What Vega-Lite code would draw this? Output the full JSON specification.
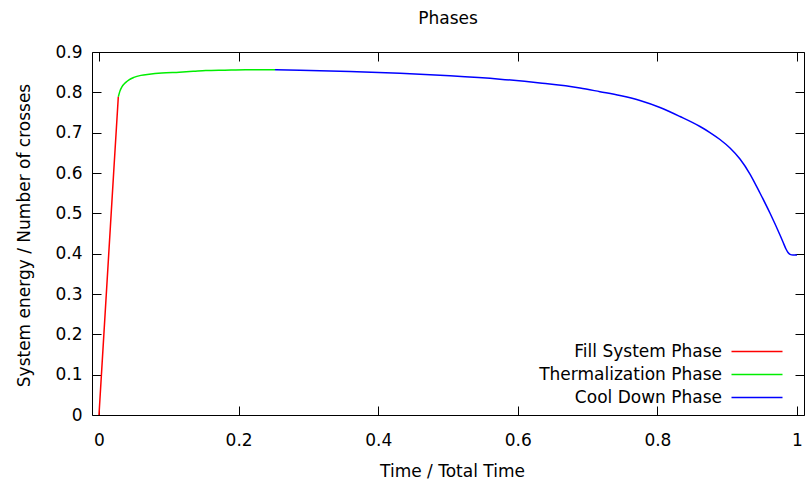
{
  "$schema": "https://vega.github.io/schema/vega-lite/v6.json",
  "width": 712,
  "height": 363,
  "autosize": {"type": "none"},
  "padding": {"left": 92, "top": 52, "right": 1, "bottom": 65},
  "title": {"text": "Phases", "frame": "group", "anchor": "middle", "baseline": "alphabetic", "offset": 2, "fontSize": 17, "font": "DejaVu Sans", "fontWeight": "normal", "color": "#000"},
  "config": {
    "view": {"stroke": "#000", "strokeWidth": 1},
    "font": "DejaVu Sans",
    "axis": {"labelFont": "DejaVu Sans", "titleFont": "DejaVu Sans", "labelFontSize": 17, "titleFontSize": 17, "labelColor": "#000", "titleColor": "#000", "titleFontWeight": "normal", "tickColor": "#000", "tickWidth": 1, "domain": false, "grid": false, "labelFlush": false, "labelOverlap": false, "labelBound": false},
    "legend": {"labelFont": "DejaVu Sans"}
  },
  "data": {"values": [
    {"phase": "Fill System Phase", "t": 0.0, "e": 0.0},
    {"phase": "Fill System Phase", "t": 0.007, "e": 0.2},
    {"phase": "Fill System Phase", "t": 0.014, "e": 0.4},
    {"phase": "Fill System Phase", "t": 0.021, "e": 0.6},
    {"phase": "Fill System Phase", "t": 0.0277, "e": 0.789},
    {"phase": "Thermalization Phase", "t": 0.0277, "e": 0.789},
    {"phase": "Thermalization Phase", "t": 0.030, "e": 0.803},
    {"phase": "Thermalization Phase", "t": 0.033, "e": 0.814},
    {"phase": "Thermalization Phase", "t": 0.038, "e": 0.824},
    {"phase": "Thermalization Phase", "t": 0.043, "e": 0.831},
    {"phase": "Thermalization Phase", "t": 0.050, "e": 0.837},
    {"phase": "Thermalization Phase", "t": 0.060, "e": 0.842},
    {"phase": "Thermalization Phase", "t": 0.072, "e": 0.845},
    {"phase": "Thermalization Phase", "t": 0.090, "e": 0.848},
    {"phase": "Thermalization Phase", "t": 0.115, "e": 0.850},
    {"phase": "Thermalization Phase", "t": 0.135, "e": 0.852},
    {"phase": "Thermalization Phase", "t": 0.153, "e": 0.854},
    {"phase": "Thermalization Phase", "t": 0.180, "e": 0.855},
    {"phase": "Thermalization Phase", "t": 0.210, "e": 0.856},
    {"phase": "Thermalization Phase", "t": 0.2522, "e": 0.8561},
    {"phase": "Cool Down Phase", "t": 0.2522, "e": 0.8561},
    {"phase": "Cool Down Phase", "t": 0.2880, "e": 0.8549},
    {"phase": "Cool Down Phase", "t": 0.3596, "e": 0.8517},
    {"phase": "Cool Down Phase", "t": 0.4312, "e": 0.8472},
    {"phase": "Cool Down Phase", "t": 0.5029, "e": 0.8410},
    {"phase": "Cool Down Phase", "t": 0.5745, "e": 0.8326},
    {"phase": "Cool Down Phase", "t": 0.6318, "e": 0.8231},
    {"phase": "Cool Down Phase", "t": 0.6891, "e": 0.8107},
    {"phase": "Cool Down Phase", "t": 0.7177, "e": 0.8016},
    {"phase": "Cool Down Phase", "t": 0.7464, "e": 0.7922},
    {"phase": "Cool Down Phase", "t": 0.7750, "e": 0.7798},
    {"phase": "Cool Down Phase", "t": 0.8037, "e": 0.7624},
    {"phase": "Cool Down Phase", "t": 0.8323, "e": 0.7401},
    {"phase": "Cool Down Phase", "t": 0.8610, "e": 0.7153},
    {"phase": "Cool Down Phase", "t": 0.8753, "e": 0.7004},
    {"phase": "Cool Down Phase", "t": 0.8896, "e": 0.6831},
    {"phase": "Cool Down Phase", "t": 0.9040, "e": 0.6620},
    {"phase": "Cool Down Phase", "t": 0.9183, "e": 0.6347},
    {"phase": "Cool Down Phase", "t": 0.9326, "e": 0.5975},
    {"phase": "Cool Down Phase", "t": 0.9469, "e": 0.5504},
    {"phase": "Cool Down Phase", "t": 0.9612, "e": 0.5008},
    {"phase": "Cool Down Phase", "t": 0.9756, "e": 0.4463},
    {"phase": "Cool Down Phase", "t": 0.9799, "e": 0.4289},
    {"phase": "Cool Down Phase", "t": 0.9842, "e": 0.4116},
    {"phase": "Cool Down Phase", "t": 0.9871, "e": 0.4029},
    {"phase": "Cool Down Phase", "t": 0.9900, "e": 0.3984},
    {"phase": "Cool Down Phase", "t": 0.9943, "e": 0.3967},
    {"phase": "Cool Down Phase", "t": 1.0, "e": 0.3967}
  ]},
  "layer": [
    {
      "mark": {"type": "line", "strokeWidth": 1.5, "interpolate": "monotone"},
      "encoding": {
        "x": {"field": "t", "type": "quantitative", "scale": {"domain": [-0.01, 1.01], "nice": false, "zero": false},
          "axis": {"orient": "bottom", "values": [0, 0.2, 0.4, 0.6, 0.8, 1], "format": "~g", "tickSize": -9, "labelPadding": 26, "title": "Time / Total Time", "titleX": 360, "titleY": 61, "titleBaseline": "alphabetic", "titleAnchor": null}},
        "y": {"field": "e", "type": "quantitative", "scale": {"domain": [0, 0.9], "nice": false, "zero": false},
          "axis": {"orient": "left", "values": [0, 0.1, 0.2, 0.3, 0.4, 0.5, 0.6, 0.7, 0.8, 0.9], "format": "~g", "tickSize": -9, "labelPadding": 19, "title": "System energy / Number of crosses", "titleAngle": 270, "titleBaseline": "alphabetic", "titleAlign": "center", "titleX": -63, "titleY": 183}},
        "color": {"field": "phase", "type": "nominal",
          "scale": {"domain": ["Fill System Phase", "Thermalization Phase", "Cool Down Phase"], "range": ["#ff0000", "#00ee00", "#0000ff"]},
          "legend": {"orient": "none", "legendX": 656.5, "legendY": 291, "title": null, "symbolType": "M-5.1,0H5.1", "symbolSize": 100, "symbolStrokeWidth": 1.5, "labelAlign": "right", "labelOffset": -43.5, "labelFontSize": 17, "labelColor": "#000", "rowPadding": 5, "padding": 0, "labelLimit": 400}}
      }
    },
    {
      "mark": {"type": "line", "opacity": 0},
      "encoding": {
        "x": {"field": "t", "type": "quantitative", "scale": {"domain": [-0.01, 1.01], "nice": false, "zero": false},
          "axis": {"orient": "top", "values": [0, 0.2, 0.4, 0.6, 0.8, 1], "tickSize": -9, "labels": false, "title": null}},
        "y": {"field": "e", "type": "quantitative", "scale": {"domain": [0, 0.9], "nice": false, "zero": false},
          "axis": {"orient": "right", "values": [0, 0.1, 0.2, 0.3, 0.4, 0.5, 0.6, 0.7, 0.8, 0.9], "tickSize": -9, "labels": false, "title": null}},
        "detail": {"field": "phase"}
      }
    }
  ],
  "resolve": {"axis": {"x": "independent", "y": "independent"}}
}
